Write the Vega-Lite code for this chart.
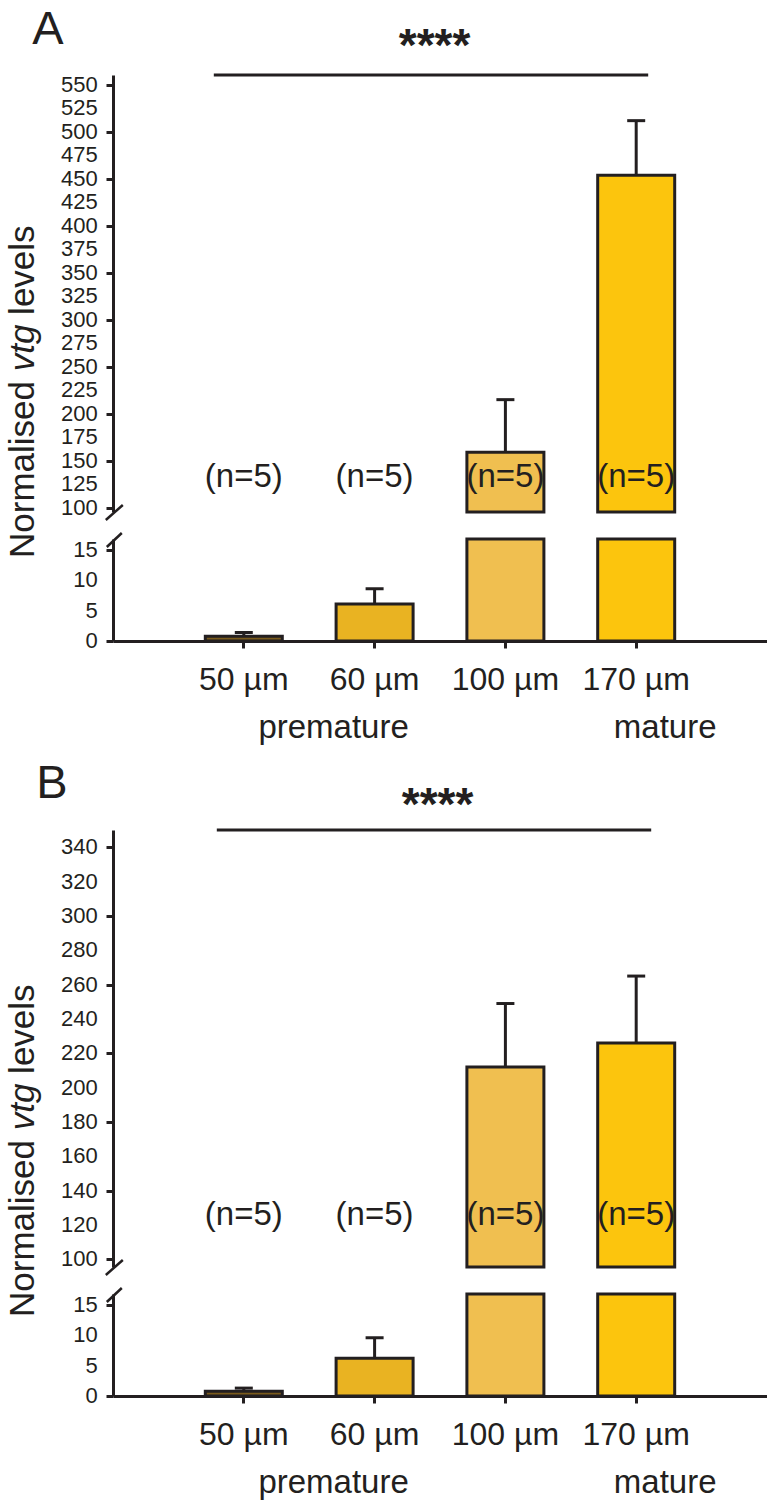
{
  "$schema": "https://vega.github.io/schema/vega-lite/v6.json",
  "padding": {"left": 5, "top": 6, "right": 0, "bottom": 0},
  "background": "white",
  "datasets": {
    "A": [
      {"size": "50 µm", "mean": 0.8, "upper": 1.4, "nlab": "(n=5)"},
      {"size": "60 µm", "mean": 6.1, "upper": 8.6, "nlab": "(n=5)"},
      {"size": "100 µm", "mean": 159, "upper": 215, "nlab": "(n=5)"},
      {"size": "170 µm", "mean": 454, "upper": 512, "nlab": "(n=5)"}
    ],
    "B": [
      {"size": "50 µm", "mean": 0.8, "upper": 1.3, "nlab": "(n=5)"},
      {"size": "60 µm", "mean": 6.2, "upper": 9.6, "nlab": "(n=5)"},
      {"size": "100 µm", "mean": 212, "upper": 249, "nlab": "(n=5)"},
      {"size": "170 µm", "mean": 226, "upper": 265, "nlab": "(n=5)"}
    ],
    "ticksAU": [{"v": 100}, {"v": 125}, {"v": 150}, {"v": 175}, {"v": 200}, {"v": 225}, {"v": 250}, {"v": 275}, {"v": 300}, {"v": 325}, {"v": 350}, {"v": 375}, {"v": 400}, {"v": 425}, {"v": 450}, {"v": 475}, {"v": 500}, {"v": 525}, {"v": 550}],
    "ticksBU": [{"v": 100}, {"v": 120}, {"v": 140}, {"v": 160}, {"v": 180}, {"v": 200}, {"v": 220}, {"v": 240}, {"v": 260}, {"v": 280}, {"v": 300}, {"v": 320}, {"v": 340}],
    "ticksL": [{"v": 0}, {"v": 5}, {"v": 10}, {"v": 15}]
  },
  "bounds": "flush",
  "spacing": 27,
  "resolve": {"scale": {"x": "independent", "y": "independent"}},
  "vconcat": [
    {
      "width": 654, "height": 437,
      "data": {"name": "A"},
      "layer": [
        {
          "transform": [{"filter": "datum.mean > 95"}],
          "mark": {"type": "bar", "stroke": "#231F20", "strokeWidth": 3, "opacity": 1},
          "encoding": {
            "x": {"field": "size", "type": "nominal", "scale": {"type": "band", "domain": ["50 µm", "60 µm", "100 µm", "170 µm"], "paddingInner": 0.4113, "paddingOuter": 0.7057}, "axis": null},
            "y": {"field": "mean", "type": "quantitative", "scale": {"domain": [95.4, 560.6], "zero": false, "nice": false, "clamp": true},
                  "axis": {"title": null, "values": [100, 125, 150, 175, 200, 225, 250, 275, 300, 325, 350, 375, 400, 425, 450, 475, 500, 525, 550], "labels": false, "tickSize": 7}},
            "color": {"field": "size", "type": "nominal", "scale": {"domain": ["50 µm", "60 µm", "100 µm", "170 µm"], "range": ["#7a5b1c", "#e9b322", "#f0bf50", "#fcc50d"]}, "legend": null}
          }
        },
        {
          "data": {"name": "ticksAU"},
          "mark": {"type": "text", "fontSize": 22, "align": "right", "baseline": "middle", "dx": -146},
          "encoding": {"x": {"datum": "50 µm"}, "y": {"field": "v", "type": "quantitative"}, "text": {"field": "v", "type": "quantitative"}}
        },
        {
          "transform": [{"filter": "datum.mean > 95"}],
          "mark": {"type": "rule", "strokeWidth": 3, "color": "#231F20", "opacity": 1},
          "encoding": {"x": {"field": "size", "type": "nominal"}, "y": {"field": "mean", "type": "quantitative"}, "y2": {"field": "upper"}}
        },
        {
          "transform": [{"filter": "datum.mean > 95"}],
          "mark": {"type": "tick", "size": 18, "thickness": 3, "color": "#231F20", "opacity": 1},
          "encoding": {"x": {"field": "size", "type": "nominal"}, "y": {"field": "upper", "type": "quantitative"}}
        },
        {
          "mark": {"type": "text", "fontSize": 33, "baseline": "alphabetic", "dy": -25},
          "encoding": {"x": {"field": "size", "type": "nominal"}, "y": {"datum": 95.4}, "text": {"field": "nlab"}}
        },
        {
          "data": {"values": [{}]},
          "mark": {"type": "rule", "strokeWidth": 3, "color": "#231F20", "xOffset": -30, "x2Offset": 12},
          "encoding": {"x": {"datum": "50 µm"}, "x2": {"datum": "170 µm"}, "y": {"datum": 560.6}}
        },
        {
          "data": {"values": [{}]},
          "mark": {"type": "text", "text": "****", "fontSize": 46, "fontWeight": "bold", "baseline": "alphabetic", "dx": 60, "dy": -14},
          "encoding": {"x": {"datum": "60 µm"}, "y": {"datum": 560.6}}
        },
        {
          "data": {"values": [{}]},
          "mark": {"type": "text", "text": "A", "fontSize": 47, "baseline": "alphabetic", "dx": -196, "dy": -31},
          "encoding": {"x": {"datum": "50 µm"}, "y": {"datum": 560.6}}
        },
        {
          "data": {"values": [{}]},
          "mark": {"type": "rule", "strokeWidth": 2.5, "color": "#231F20", "xOffset": -138, "x2Offset": -121, "yOffset": 8, "y2Offset": -7},
          "encoding": {"x": {"datum": "50 µm"}, "x2": {"datum": "50 µm"}, "y": {"datum": 95.4}, "y2": {"datum": 95.4}}
        },
        {
          "data": {"values": [{}]},
          "mark": {"type": "text", "text": "Normalised", "angle": 270, "align": "left", "baseline": "alphabetic", "fontSize": 35, "dx": -46, "dy": -210},
          "encoding": {"x": {"datum": "50 µm"}, "y": {"datum": 95.4}}
        },
        {
          "data": {"values": [{}]},
          "mark": {"type": "text", "text": "vtg", "fontStyle": "italic", "angle": 270, "align": "left", "baseline": "alphabetic", "fontSize": 35, "dx": 140.7, "dy": -210},
          "encoding": {"x": {"datum": "50 µm"}, "y": {"datum": 95.4}}
        },
        {
          "data": {"values": [{}]},
          "mark": {"type": "text", "text": "levels", "angle": 270, "align": "left", "baseline": "alphabetic", "fontSize": 35, "dx": 197.1, "dy": -210},
          "encoding": {"x": {"datum": "50 µm"}, "y": {"datum": 95.4}}
        }
      ]
    },
    {
      "width": 654, "height": 102,
      "data": {"name": "A"},
      "layer": [
        {
          "mark": {"type": "bar", "stroke": "#231F20", "strokeWidth": 3, "opacity": 1},
          "encoding": {
            "x": {"field": "size", "type": "nominal", "scale": {"type": "band", "domain": ["50 µm", "60 µm", "100 µm", "170 µm"], "paddingInner": 0.4113, "paddingOuter": 0.7057},
                  "axis": {"title": null, "labelAngle": 0, "labelFontSize": 32, "labelBaseline": "alphabetic", "labelPadding": 41, "tickSize": 7}},
            "y": {"field": "mean", "type": "quantitative", "scale": {"domain": [0, 16.8], "zero": false, "nice": false, "clamp": true},
                  "axis": {"title": null, "values": [0, 5, 10, 15], "labels": false, "tickSize": 7}},
            "color": {"field": "size", "type": "nominal", "legend": null}
          }
        },
        {
          "data": {"name": "ticksL"},
          "mark": {"type": "text", "fontSize": 22, "align": "right", "baseline": "middle", "dx": -146},
          "encoding": {"x": {"datum": "50 µm"}, "y": {"field": "v", "type": "quantitative"}, "text": {"field": "v", "type": "quantitative"}}
        },
        {
          "transform": [{"filter": "datum.mean < 16"}],
          "mark": {"type": "rule", "strokeWidth": 3, "color": "#231F20", "opacity": 1},
          "encoding": {"x": {"field": "size", "type": "nominal"}, "y": {"field": "mean", "type": "quantitative"}, "y2": {"field": "upper"}}
        },
        {
          "transform": [{"filter": "datum.mean < 16"}],
          "mark": {"type": "tick", "size": 18, "thickness": 3, "color": "#231F20", "opacity": 1},
          "encoding": {"x": {"field": "size", "type": "nominal"}, "y": {"field": "upper", "type": "quantitative"}}
        },
        {
          "data": {"values": [{}]},
          "mark": {"type": "rule", "strokeWidth": 2.5, "color": "#231F20", "xOffset": -137, "x2Offset": -122, "yOffset": 8, "y2Offset": -6},
          "encoding": {"x": {"datum": "50 µm"}, "x2": {"datum": "50 µm"}, "y": {"datum": 16.8}, "y2": {"datum": 16.8}}
        },
        {
          "data": {"values": [{}]},
          "mark": {"type": "text", "text": "premature", "fontSize": 33, "baseline": "alphabetic", "dx": -41, "dy": 97},
          "encoding": {"x": {"datum": "60 µm"}, "y": {"datum": 0}}
        },
        {
          "data": {"values": [{}]},
          "mark": {"type": "text", "text": "mature", "fontSize": 33, "baseline": "alphabetic", "dx": 29, "dy": 97},
          "encoding": {"x": {"datum": "170 µm"}, "y": {"datum": 0}}
        }
      ]
    },
    {
      "width": 654, "height": 135,
      "data": {"values": [{}]},
      "mark": {"type": "text", "text": ""},
      "encoding": {}
    },
    {
      "width": 654, "height": 437,
      "data": {"name": "B"},
      "layer": [
        {
          "transform": [{"filter": "datum.mean > 95"}],
          "mark": {"type": "bar", "stroke": "#231F20", "strokeWidth": 3, "opacity": 1},
          "encoding": {
            "x": {"field": "size", "type": "nominal", "scale": {"type": "band", "domain": ["50 µm", "60 µm", "100 µm", "170 µm"], "paddingInner": 0.4113, "paddingOuter": 0.7057}, "axis": null},
            "y": {"field": "mean", "type": "quantitative", "scale": {"domain": [95.5, 350.1], "zero": false, "nice": false, "clamp": true},
                  "axis": {"title": null, "values": [100, 120, 140, 160, 180, 200, 220, 240, 260, 280, 300, 320, 340], "labels": false, "tickSize": 7}},
            "color": {"field": "size", "type": "nominal", "legend": null}
          }
        },
        {
          "data": {"name": "ticksBU"},
          "mark": {"type": "text", "fontSize": 22, "align": "right", "baseline": "middle", "dx": -146},
          "encoding": {"x": {"datum": "50 µm"}, "y": {"field": "v", "type": "quantitative"}, "text": {"field": "v", "type": "quantitative"}}
        },
        {
          "transform": [{"filter": "datum.mean > 95"}],
          "mark": {"type": "rule", "strokeWidth": 3, "color": "#231F20", "opacity": 1},
          "encoding": {"x": {"field": "size", "type": "nominal"}, "y": {"field": "mean", "type": "quantitative"}, "y2": {"field": "upper"}}
        },
        {
          "transform": [{"filter": "datum.mean > 95"}],
          "mark": {"type": "tick", "size": 18, "thickness": 3, "color": "#231F20", "opacity": 1},
          "encoding": {"x": {"field": "size", "type": "nominal"}, "y": {"field": "upper", "type": "quantitative"}}
        },
        {
          "mark": {"type": "text", "fontSize": 33, "baseline": "alphabetic", "dy": -42},
          "encoding": {"x": {"field": "size", "type": "nominal"}, "y": {"datum": 95.5}, "text": {"field": "nlab"}}
        },
        {
          "data": {"values": [{}]},
          "mark": {"type": "rule", "strokeWidth": 3, "color": "#231F20", "xOffset": -27, "x2Offset": 15},
          "encoding": {"x": {"datum": "50 µm"}, "x2": {"datum": "170 µm"}, "y": {"datum": 350.1}}
        },
        {
          "data": {"values": [{}]},
          "mark": {"type": "text", "text": "****", "fontSize": 46, "fontWeight": "bold", "baseline": "alphabetic", "dx": 63, "dy": -10},
          "encoding": {"x": {"datum": "60 µm"}, "y": {"datum": 350.1}}
        },
        {
          "data": {"values": [{}]},
          "mark": {"type": "text", "text": "B", "fontSize": 47, "baseline": "alphabetic", "dx": -192, "dy": -32},
          "encoding": {"x": {"datum": "50 µm"}, "y": {"datum": 350.1}}
        },
        {
          "data": {"values": [{}]},
          "mark": {"type": "rule", "strokeWidth": 2.5, "color": "#231F20", "xOffset": -138, "x2Offset": -121, "yOffset": 8, "y2Offset": -7},
          "encoding": {"x": {"datum": "50 µm"}, "x2": {"datum": "50 µm"}, "y": {"datum": 95.5}, "y2": {"datum": 95.5}}
        },
        {
          "data": {"values": [{}]},
          "mark": {"type": "text", "text": "Normalised", "angle": 270, "align": "left", "baseline": "alphabetic", "fontSize": 35, "dx": -50, "dy": -210},
          "encoding": {"x": {"datum": "50 µm"}, "y": {"datum": 95.5}}
        },
        {
          "data": {"values": [{}]},
          "mark": {"type": "text", "text": "vtg", "fontStyle": "italic", "angle": 270, "align": "left", "baseline": "alphabetic", "fontSize": 35, "dx": 136.7, "dy": -210},
          "encoding": {"x": {"datum": "50 µm"}, "y": {"datum": 95.5}}
        },
        {
          "data": {"values": [{}]},
          "mark": {"type": "text", "text": "levels", "angle": 270, "align": "left", "baseline": "alphabetic", "fontSize": 35, "dx": 193.1, "dy": -210},
          "encoding": {"x": {"datum": "50 µm"}, "y": {"datum": 95.5}}
        }
      ]
    },
    {
      "width": 654, "height": 102,
      "data": {"name": "B"},
      "layer": [
        {
          "mark": {"type": "bar", "stroke": "#231F20", "strokeWidth": 3, "opacity": 1},
          "encoding": {
            "x": {"field": "size", "type": "nominal", "scale": {"type": "band", "domain": ["50 µm", "60 µm", "100 µm", "170 µm"], "paddingInner": 0.4113, "paddingOuter": 0.7057},
                  "axis": {"title": null, "labelAngle": 0, "labelFontSize": 32, "labelBaseline": "alphabetic", "labelPadding": 41, "tickSize": 7}},
            "y": {"field": "mean", "type": "quantitative", "scale": {"domain": [0, 16.8], "zero": false, "nice": false, "clamp": true},
                  "axis": {"title": null, "values": [0, 5, 10, 15], "labels": false, "tickSize": 7}},
            "color": {"field": "size", "type": "nominal", "legend": null}
          }
        },
        {
          "data": {"name": "ticksL"},
          "mark": {"type": "text", "fontSize": 22, "align": "right", "baseline": "middle", "dx": -146},
          "encoding": {"x": {"datum": "50 µm"}, "y": {"field": "v", "type": "quantitative"}, "text": {"field": "v", "type": "quantitative"}}
        },
        {
          "transform": [{"filter": "datum.mean < 16"}],
          "mark": {"type": "rule", "strokeWidth": 3, "color": "#231F20", "opacity": 1},
          "encoding": {"x": {"field": "size", "type": "nominal"}, "y": {"field": "mean", "type": "quantitative"}, "y2": {"field": "upper"}}
        },
        {
          "transform": [{"filter": "datum.mean < 16"}],
          "mark": {"type": "tick", "size": 18, "thickness": 3, "color": "#231F20", "opacity": 1},
          "encoding": {"x": {"field": "size", "type": "nominal"}, "y": {"field": "upper", "type": "quantitative"}}
        },
        {
          "data": {"values": [{}]},
          "mark": {"type": "rule", "strokeWidth": 2.5, "color": "#231F20", "xOffset": -137, "x2Offset": -122, "yOffset": 8, "y2Offset": -6},
          "encoding": {"x": {"datum": "50 µm"}, "x2": {"datum": "50 µm"}, "y": {"datum": 16.8}, "y2": {"datum": 16.8}}
        },
        {
          "data": {"values": [{}]},
          "mark": {"type": "text", "text": "premature", "fontSize": 33, "baseline": "alphabetic", "dx": -41, "dy": 97},
          "encoding": {"x": {"datum": "60 µm"}, "y": {"datum": 0}}
        },
        {
          "data": {"values": [{}]},
          "mark": {"type": "text", "text": "mature", "fontSize": 33, "baseline": "alphabetic", "dx": 29, "dy": 97},
          "encoding": {"x": {"datum": "170 µm"}, "y": {"datum": 0}}
        }
      ]
    }
  ],
  "config": {
    "view": {"stroke": null},
    "font": "Liberation Sans",
    "axis": {"domainColor": "#231F20", "domainWidth": 3, "tickColor": "#231F20", "tickWidth": 3, "labelColor": "#231F20", "labelFont": "Liberation Sans", "grid": false},
    "text": {"font": "Liberation Sans", "color": "#231F20"}
  }
}
